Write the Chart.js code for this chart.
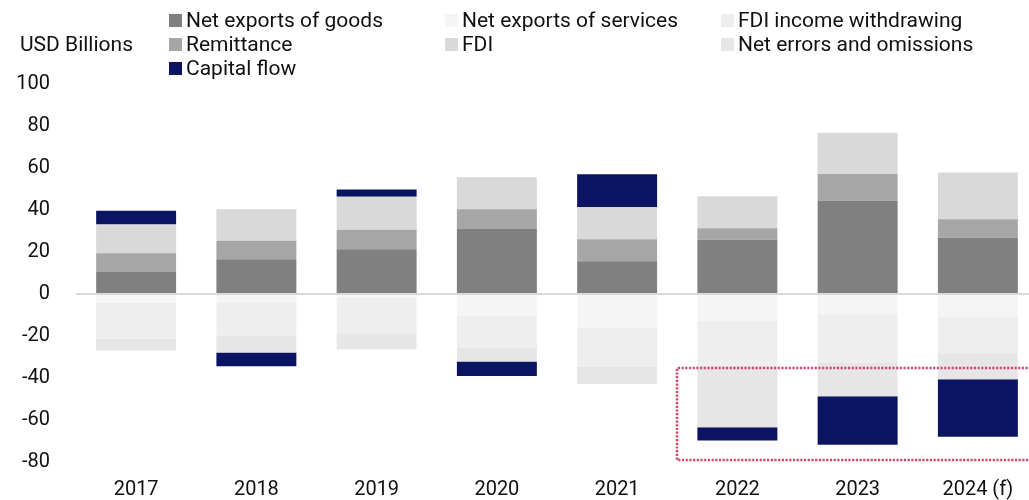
<!DOCTYPE html>
<html>
<head>
<meta charset="utf-8">
<script src="https://cdn.jsdelivr.net/npm/chart.js@4/dist/chart.umd.min.js"></script>
<style>
    body {
        margin: 0;
        overflow: hidden;
        background: #fff;
        font-family: Roboto, "Noto Sans", sans-serif;
        color: #111;
    }
    #wrap {
        position: relative;
        width: 1040px;
        height: 500px;
    }
    #unit {
        position: absolute;
        left: 20px;
        top: 32px;
        font-size: 21px;
        line-height: 24px;
    }
    #legend {
        position: absolute;
        left: 169px;
        top: 8px;
        display: grid;
        grid-template-columns: 276px 276px 276px;
        grid-auto-rows: 24px;
        font-size: 21px;
        line-height: 24px;
    }
    #legend .item {
        display: flex;
        align-items: center;
        white-space: nowrap;
    }
    #legend .box {
        width: 13px;
        height: 13px;
        margin-right: 4px;
    }
</style>
</head>
<body>
<div id="wrap">
    <canvas id="flows-chart" width="1040" height="500"></canvas>
    <div id="unit">USD Billions</div>
    <div id="legend"></div>
</div>
<script>
const years = ['2017', '2018', '2019', '2020', '2021', '2022', '2023', '2024 (f)'];

const goods      = [10.7, 16.6, 21.3, 30.9, 15.6, 25.8, 44.4, 26.8];
const services   = [-4.2, -3.9, -1.5, -10.4, -15.8, -12.9, -9.8, -10.7];
const fdiIncome  = [-17.1, -16.0, -17.2, -14.9, -18.7, -21.1, -22.7, -17.5];
const remittance = [8.7, 8.7, 9.3, 9.5, 10.5, 5.5, 12.8, 8.8];
const fdi        = [13.7, 15.1, 15.7, 15.2, 15.2, 15.3, 19.6, 22.3];
const errors     = [-5.6, -8.0, -7.6, -6.8, -8.3, -29.4, -16.2, -12.4];
const capital    = [6.5, -6.5, 3.5, -7.0, 15.7, -6.4, -23.1, -27.4];

const yTicks = [100, 80, 60, 40, 20, 0, -20, -40, -60, -80];

// highlighted area (value range) around the last three years
const boxTop = -35;
const boxBottom = -79;

const series = [
    { label: 'Net exports of goods', data: goods, color: '#808080' },
    { label: 'Net exports of services', data: services, color: '#f5f5f5' },
    { label: 'FDI income withdrawing', data: fdiIncome, color: '#eeeeee' },
    { label: 'Remittance', data: remittance, color: '#a6a6a6' },
    { label: 'FDI', data: fdi, color: '#d9d9d9' },
    { label: 'Net errors and omissions', data: errors, color: '#e6e6e6' },
    { label: 'Capital flow', data: capital, color: '#0b1462' }
];

const dottedBox = {
    id: 'dottedBox',
    afterDatasetsDraw(chart) {
        const { ctx, scales: { x, y } } = chart;
        // keep the dots on whole pixels so they stay crisp
        const left = Math.round((x.getPixelForValue(4) + x.getPixelForValue(5)) / 2);
        const right = chart.width + 10;
        const top = Math.round(y.getPixelForValue(boxTop));
        const bottom = Math.round(y.getPixelForValue(boxBottom));
        ctx.save();
        ctx.strokeStyle = '#d4476a';
        ctx.lineWidth = 2.5;
        ctx.setLineDash([2.2, 1.5]);
        ctx.beginPath();
        ctx.moveTo(right, top);
        ctx.lineTo(left, top);
        ctx.lineTo(left, bottom);
        ctx.lineTo(right, bottom);
        ctx.stroke();
        ctx.restore();
    }
};

const flowsChart = initFlowsChart();
buildLegend(flowsChart);

function initFlowsChart() {
    const ctx = document.getElementById('flows-chart');

    return new Chart(ctx, {
        type: 'bar',
        data: {
            labels: years,
            datasets: series.map(s => ({
                label: s.label,
                data: s.data,
                backgroundColor: s.color,
                borderWidth: 0,
                barPercentage: 0.665,
                categoryPercentage: 1
            }))
        },
        options: {
            animation: false,
            responsive: false,
            layout: {
                padding: { top: 84, right: 2, left: 0, bottom: 0 }
            },
            plugins: {
                legend: { display: false },
                tooltip: { enabled: false }
            },
            scales: {
                x: {
                    stacked: true,
                    grid: { display: false },
                    border: { display: false },
                    ticks: {
                        padding: 8,
                        color: '#111',
                        font: { family: 'Roboto', size: 20 }
                    },
                    afterFit: scale => { scale.height = 38; }
                },
                y: {
                    stacked: true,
                    min: -80,
                    max: 100,
                    afterBuildTicks: scale => {
                        scale.ticks = yTicks.map(v => ({ value: v }));
                    },
                    grid: {
                        drawTicks: false,
                        lineWidth: 2,
                        color: c => c.tick && c.tick.value === 0 ? '#d9d9d9' : 'transparent'
                    },
                    border: { display: false },
                    ticks: {
                        padding: 26,
                        color: '#111',
                        font: { family: 'Roboto', size: 20 }
                    },
                    afterFit: scale => { scale.width = 76; }
                }
            }
        },
        plugins: [dottedBox]
    });
}

function buildLegend(chart) {
    const box = document.getElementById('legend');
    chart.data.datasets.forEach(ds => {
        const item = document.createElement('div');
        item.className = 'item';
        const swatch = document.createElement('span');
        swatch.className = 'box';
        swatch.style.background = ds.backgroundColor;
        const text = document.createElement('span');
        text.textContent = ds.label;
        item.appendChild(swatch);
        item.appendChild(text);
        box.appendChild(item);
    });
}
</script>
</body>
</html>
